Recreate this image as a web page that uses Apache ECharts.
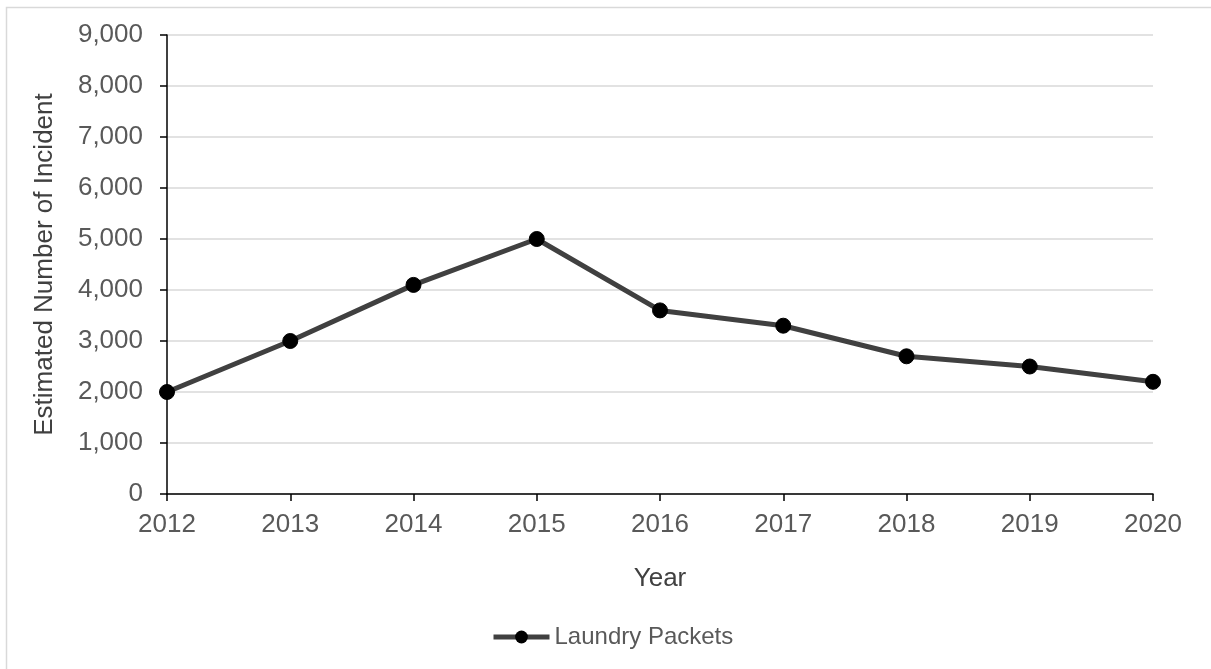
<!DOCTYPE html>
<html>
<head>
<meta charset="utf-8">
<script src="https://cdn.jsdelivr.net/npm/echarts@6/dist/echarts.min.js"></script>
<style>html,body{margin:0;padding:0;background:#fff}#c{width:1211px;height:669px}</style>
</head>
<body>
<div id="c"></div>
<script>
const years = ['2012','2013','2014','2015','2016','2017','2018','2019','2020'];
const laundryPackets = [2000, 3000, 4100, 5000, 3600, 3300, 2700, 2500, 2200];
const seriesName = 'Laundry Packets';
const xAxisTitle = 'Year';
const yAxisTitle = 'Estimated Number of Incident';

const chart = echarts.init(document.getElementById('c'), null, {renderer: 'canvas'});
const font = '"Liberation Sans", Arial, sans-serif';
chart.setOption({
  animation: false,
  backgroundColor: '#fff',
  textStyle: {fontFamily: font},
  graphic: [{
    type: 'rect', left: 4, top: 5, silent: true,
    shape: {width: 1400, height: 900},
    style: {fill: 'none', stroke: '#d9d9d9', lineWidth: 1.5}
  }],
  grid: {left: 167, right: 58, top: 35, bottom: 175, containLabel: false},
  legend: {
    data: [seriesName], top: 620, left: 486,
    itemWidth: 56, itemHeight: 16, itemGap: 6,
    lineStyle: {width: 5, color: '#404040'},
    textStyle: {color: '#595959', fontSize: 24, fontFamily: font}
  },
  xAxis: {
    type: 'category', data: years, boundaryGap: false,
    name: xAxisTitle, nameLocation: 'middle', nameGap: 72,
    nameTextStyle: {color: '#404040', fontSize: 26, fontFamily: font},
    axisLine: {lineStyle: {color: '#000', width: 1.5}},
    axisTick: {show: true, length: 7, lineStyle: {color: '#000', width: 1.5}, alignWithLabel: true},
    axisLabel: {color: '#595959', fontSize: 26, margin: 18, fontFamily: font},
    splitLine: {show: false}
  },
  yAxis: {
    type: 'value', min: 0, max: 9000, interval: 1000,
    name: yAxisTitle, nameLocation: 'middle', nameGap: 109,
    nameTextStyle: {color: '#404040', fontSize: 26, fontFamily: font},
    axisLine: {show: true, lineStyle: {color: '#000', width: 1.5}},
    axisTick: {show: true, length: 7, lineStyle: {color: '#000', width: 1.5}},
    axisLabel: {color: '#595959', fontSize: 26, margin: 24, fontFamily: font,
      formatter: v => v.toLocaleString('en-US')},
    splitLine: {show: true, lineStyle: {color: '#d9d9d9', width: 1.5}}
  },
  series: [{
    name: seriesName, type: 'line', data: laundryPackets,
    symbol: 'circle', symbolSize: 15,
    lineStyle: {color: '#404040', width: 5},
    itemStyle: {color: '#000', borderColor: '#000'},
    color: '#404040'
  }]
});
</script>
</body>
</html>
